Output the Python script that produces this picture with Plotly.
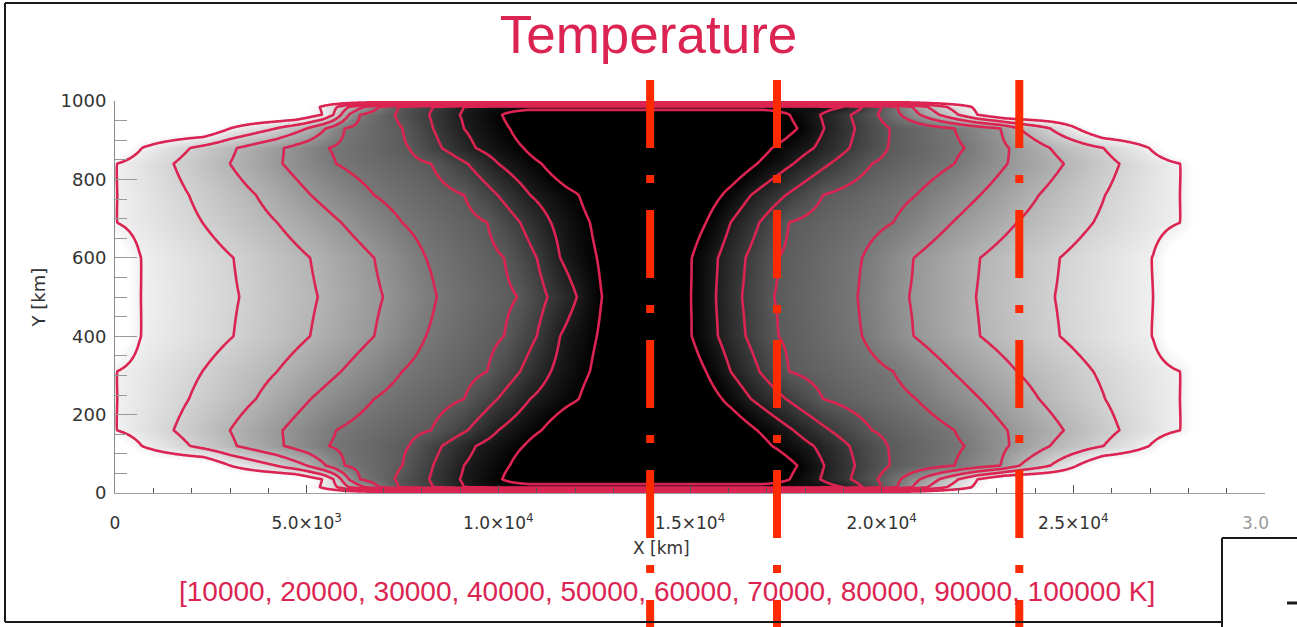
import numpy as np
import plotly.graph_objects as go

# ---------------- data ----------------
levels_K = [10000, 20000, 30000, 40000, 50000, 60000, 70000, 80000, 90000, 100000]

# y rows of the upper half (km); the lower half is the mirror image about y = 500
row_y_km = [500, 600, 690, 760, 840, 880, 930, 965, 985, 1000]

# x positions (km) where the contours cross each row, outer (10000 K) -> inner
left_500 = [670, 3240, 5290, 6990, 8390, 10500, 11280, 12050, 12700]
left_600 = [670, 3090, 5090, 6760, 8110, 10150, 11000, 11610, 12570]
left_690 = [50, 2280, 4230, 5900, 7490, 9710, 10570, 11370, 12390]
left_760 = [50, 1930, 3680, 5110, 6760, 9110, 9980, 10830, 12100]
left_840 = [50, 1530, 3000, 4375, 5770, 8250, 9200, 10000, 11130]
left_880 = [700, 1960, 3180, 4410, 5580, 7670, 8530, 9410, 10660]
left_930 = [3000, 4200, 5000, 5500, 6000, 7500, 8300, 9100, 10300]
left_965 = [5400, 5700, 5900, 6100, 6400, 7300, 8200, 9000, 10100]
left_985 = [5350, 5800, 6100, 6500, 6900, 7400, 8300, 9100]

right_500 = [27080, 24520, 22460, 20720, 19380, 17190, 16360, 15680, 15030]
right_600 = [27060, 24650, 22570, 20840, 19490, 17310, 16450, 15730, 15050]
right_690 = [27790, 25520, 23530, 21840, 20300, 17580, 16810, 16060, 15420]
right_760 = [27790, 25830, 24100, 22570, 20900, 18470, 17500, 16590, 15840]
right_840 = [27790, 26200, 24750, 23280, 21900, 19750, 18650, 17700, 16750]
right_880 = [26980, 25790, 24390, 23320, 22160, 20160, 19160, 18230, 17140]
right_930 = [25100, 24400, 23600, 23100, 21900, 20200, 19300, 18500, 17800]
right_965 = [22500, 22000, 21500, 21000, 20500, 19900, 19200, 18400, 17600]
right_985 = [22350, 21700, 21200, 20800, 20400, 20000, 19500, 19000]

# temperature in the hot core of each row (K)
core_T = [98000, 98000, 98000, 98000, 98000, 98000, 98000, 98000, 85000, 0]

# x positions (km) of the three dash-dot cut lines
cut_x_km = [13960, 17270, 23590]

x_tickvals = [0, 5000, 10000, 15000, 20000, 25000, 30000]
x_ticktext = ["0", "5.0×10<sup>3</sup>", "1.0×10<sup>4</sup>", "1.5×10<sup>4</sup>",
              "2.0×10<sup>4</sup>", "2.5×10<sup>4</sup>", " "]
last_tick_text = "3.0"

levels_text = "[10000, 20000, 30000, 40000, 50000, 60000, 70000, 80000, 90000, 100000 K]"

# ---------------- build the field from the crossings ----------------
lefts = [left_500, left_600, left_690, left_760, left_840, left_880, left_930, left_965, left_985, None]
rights = [right_500, right_600, right_690, right_760, right_840, right_880, right_930, right_965, right_985, None]

x_grid = np.arange(-1000, 30001, 40.0)


def row_profile(left, right, tcore):
    if left is None:
        return np.zeros_like(x_grid)
    n = len(left)
    lv = levels_K[:n]
    xp = ([left[0] - 700] + list(left) + [left[-1] + 700, right[-1] - 700]
          + list(right[::-1]) + [right[0] + 700])
    fp = [0] + lv + [tcore, tcore] + lv[::-1] + [0]
    return np.interp(x_grid, xp, fp)


upper = {y: row_profile(l, r, t) for y, l, r, t in zip(row_y_km, lefts, rights, core_T)}
rows = dict(upper)
for y in row_y_km:
    if y != 500:
        rows[1000 - y] = upper[y]
y_all = sorted(rows)
z = np.array([rows[y] for y in y_all])

CRIMSON = "#DB2452"
RED = "#FF2A00"

fig = go.Figure()
fig.add_trace(go.Contour(
    x=x_grid, y=y_all, z=z,
    autocontour=False,
    contours=dict(start=levels_K[0], end=levels_K[-1], size=levels_K[1] - levels_K[0],
                  coloring="heatmap", showlines=True),
    line=dict(color=CRIMSON, width=2.6, smoothing=0.75),
    colorscale=[[0, "#ffffff"], [1, "#000000"]],
    zmin=5000, zmax=90000, showscale=False, hoverinfo="skip",
))


def px(xpix):
    return (xpix - 115) / 1150.0


def py(ypix):
    return (493 - ypix) / 392.0


shapes = []
for xc in cut_x_km:
    shapes.append(dict(type="line", xref="x", yref="paper", x0=xc, x1=xc, y0=py(80), y1=py(645),
                       line=dict(color=RED, width=8, dash="68px,27px,8px,27px"), layer="above"))
# slide frame
frame = dict(color="#1a1a1a", width=2)
shapes += [
    dict(type="line", xref="paper", yref="paper", x0=px(5), x1=px(5), y0=py(3), y1=py(622), line=frame),
    dict(type="line", xref="paper", yref="paper", x0=px(5), x1=px(1300), y0=py(3), y1=py(3), line=frame),
    dict(type="line", xref="paper", yref="paper", x0=px(5), x1=px(1222), y0=py(622), y1=py(622), line=frame),
    dict(type="line", xref="paper", yref="paper", x0=px(1222), x1=px(1222), y0=py(538), y1=py(640), line=frame),
    dict(type="line", xref="paper", yref="paper", x0=px(1222), x1=px(1300), y0=py(538), y1=py(538), line=frame),
    dict(type="line", xref="paper", yref="paper", x0=px(1287), x1=px(1300), y0=py(603), y1=py(603),
         line=dict(color="#1a1a1a", width=3)),
]

annotations = [
    dict(text="X [km]", xref="paper", yref="paper", x=px(661), y=py(548), showarrow=False,
         xanchor="center", yanchor="middle", font=dict(family="DejaVu Sans", size=17, color="#333333")),
    dict(text=last_tick_text, xref="paper", yref="paper", x=px(1255), y=py(523), showarrow=False,
         xanchor="center", yanchor="middle", font=dict(family="DejaVu Sans", size=17, color="#9a9a9a")),
    dict(text=levels_text, xref="paper", yref="paper", x=px(667), y=py(591), showarrow=False,
         xanchor="center", yanchor="middle", font=dict(family="Liberation Sans", size=28, color=CRIMSON)),
]

fig.update_layout(
    width=1297, height=627,
    margin=dict(l=115, r=32, t=101, b=134),
    paper_bgcolor="white", plot_bgcolor="white",
    showlegend=False,
    title=dict(text="Temperature", x=0.5, xref="container", xanchor="center",
               y=1 - 34 / 627, yref="container", yanchor="middle",
               font=dict(family="Liberation Sans", size=53, color=CRIMSON)),
    shapes=shapes, annotations=annotations,
    xaxis=dict(range=[0, 30000], showgrid=False, zeroline=False, showline=True,
               linecolor="#a0a0a0", linewidth=1, ticks="inside", ticklen=8, tickcolor="#555555",
               tickmode="array", tickvals=x_tickvals, ticktext=x_ticktext,
               tickfont=dict(family="DejaVu Sans", size=17, color="#333333"),
               ticklabelstandoff=15,
               minor=dict(tickmode="linear", tick0=0, dtick=1000, ticks="inside", ticklen=5,
                          tickcolor="#555555", showgrid=False)),
    yaxis=dict(range=[0, 1000], showgrid=False, zeroline=False, showline=True,
               linecolor="#888888", linewidth=1, ticks="inside", ticklen=22, tickcolor="#999999",
               tickmode="linear", tick0=0, dtick=200,
               tickfont=dict(family="DejaVu Sans", size=18, color="#333333"),
               ticklabelstandoff=4,
               minor=dict(tickmode="linear", tick0=0, dtick=50, ticks="inside", ticklen=12,
                          tickcolor="#999999", showgrid=False),
               title=dict(text="Y [km]", standoff=10,
                          font=dict(family="DejaVu Sans", size=18, color="#333333"))),
)

fig.write_html("out.html", config={"displayModeBar": False},
               post_script="document.body.style.margin='0';")
